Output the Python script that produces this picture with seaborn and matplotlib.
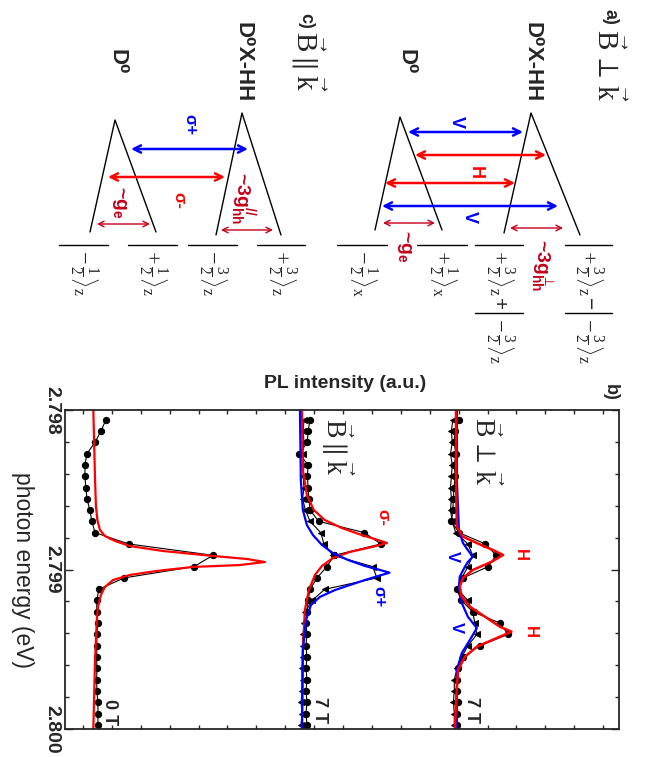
import matplotlib
matplotlib.use("Agg")
import matplotlib.pyplot as plt
from matplotlib.ticker import MultipleLocator
import seaborn as sns

sns.set_style("ticks")
plt.rcParams["font.family"] = ["Liberation Sans", "DejaVu Sans"]
plt.rcParams["mathtext.fontset"] = "custom"
plt.rcParams["mathtext.rm"] = "Liberation Serif"
plt.rcParams["mathtext.it"] = "Liberation Serif:italic"
plt.rcParams["mathtext.bf"] = "Liberation Sans:bold"
plt.rcParams["mathtext.default"] = "regular"

RED = "#ff0000"
BLUE = "#0000ff"
DARKRED = "#c4001a"

# measured photon energies (eV)
energy = [2.798061, 2.798132, 2.798203, 2.798273, 2.798344, 2.798415, 2.798486,
          2.798557, 2.798628, 2.798698, 2.798769, 2.798840, 2.798911, 2.798982,
          2.799053, 2.799124, 2.799194, 2.799265, 2.799336, 2.799407, 2.799478,
          2.799549, 2.799619, 2.799690, 2.799761, 2.799832, 2.799903, 2.799974]

# 0 T spectrum
pl_0T = [0.80, 0.62, 0.42, 0.14, 0.07, 0.07, 0.10, 0.14, 0.24, 0.31, 0.42, 1.59,
         4.50, 3.84, 1.42, 0.55, 0.48, 0.48, 0.52, 0.48, 0.48, 0.48, 0.48, 0.48,
         0.48, 0.52, 0.52, 0.52]
fit_0T_e = [2.798000, 2.798439, 2.798602, 2.798690, 2.798752, 2.798790, 2.798821,
            2.798853, 2.798884, 2.798915, 2.798934, 2.798953, 2.798972, 2.798984,
            2.799009, 2.799034, 2.799066, 2.799110, 2.799160, 2.799235, 2.799317,
            2.799567, 2.800000]
fit_0T = [0.36, 0.42, 0.45, 0.50, 0.59, 0.76, 1.11, 1.63, 2.77, 4.50, 5.67, 6.30,
          5.43, 3.81, 2.56, 1.63, 1.04, 0.76, 0.62, 0.52, 0.48, 0.42, 0.36]

# 7 T, B parallel k (sigma- circles, sigma+ triangles)
pl_par_sm = [7.86, 7.79, 7.77, 7.48, 7.79, 7.77, 7.79, 7.82, 7.86, 8.16, 9.74, 10.31,
             8.70, 8.44, 8.10, 7.86, 7.79, 7.75, 7.72, 7.75, 7.72, 7.75, 7.72, 7.75,
             7.72, 7.75, 7.72, 7.75]
pl_par_sp = [7.65, 7.62, 7.65, 7.60, 7.65, 7.62, 7.65, 7.60, 7.70, 7.86, 8.23, 8.34,
             8.65, 10.03, 10.17, 8.37, 7.93, 7.70, 7.65, 7.62, 7.60, 7.62, 7.58, 7.60,
             7.58, 7.55, 7.58, 7.55]
fit_par_sm_e = [2.798000, 2.798376, 2.798533, 2.798627, 2.798690, 2.798740, 2.798784,
                2.798815, 2.798834, 2.798859, 2.798890, 2.798928, 2.798978, 2.799034,
                2.799129, 2.799254, 2.799505, 2.800000]
fit_par_sm = [7.58, 7.61, 7.75, 7.99, 8.37, 8.96, 9.65, 10.21, 10.52, 10.00, 9.24,
              8.65, 8.27, 8.03, 7.82, 7.68, 7.61, 7.58]
fit_par_sp_e = [2.798000, 2.798439, 2.798627, 2.798721, 2.798784, 2.798846, 2.798897,
                2.798940, 2.798978, 2.799003, 2.799020, 2.799041, 2.799066, 2.799097,
                2.799129, 2.799172, 2.799223, 2.799317, 2.799505, 2.800000]
fit_par_sp = [7.51, 7.54, 7.61, 7.75, 7.96, 8.27, 8.65, 9.17, 9.76, 10.28, 10.61,
              10.21, 9.76, 9.24, 8.72, 8.20, 7.89, 7.72, 7.61, 7.58]

# 7 T, B perpendicular k (H circles, V triangles)
pl_perp_h = [13.02, 12.88, 12.84, 12.91, 12.85, 12.88, 12.84, 12.82, 12.80, 12.75,
             13.01, 13.93, 14.30, 14.02, 13.15, 12.93, 13.10, 13.49, 14.43, 14.71,
             13.73, 13.15, 12.98, 12.95, 12.95, 12.97, 12.95, 12.94]
pl_perp_v = [12.80, 12.75, 12.78, 12.72, 12.78, 12.75, 12.72, 12.75, 12.72, 12.78,
             12.90, 13.32, 13.49, 13.32, 13.11, 12.96, 13.32, 13.49, 13.56, 13.63,
             13.32, 13.11, 12.95, 12.85, 12.85, 12.82, 12.85, 12.85]
fit_perp_h_e = [2.798000, 2.798439, 2.798732, 2.798794, 2.798834, 2.798878, 2.798909,
                2.798951, 2.799003, 2.799053, 2.799108, 2.799171, 2.799233, 2.799304,
                2.799359, 2.799390, 2.799429, 2.799484, 2.799547, 2.799630, 2.799837,
                2.800000]
fit_perp_h = [12.91, 12.91, 12.94, 13.15, 13.63, 14.19, 14.54, 14.15, 13.49, 13.15,
              13.04, 13.11, 13.39, 13.98, 14.43, 14.83, 14.33, 13.63, 13.22, 12.98,
              12.91, 12.87]
fit_perp_v_e = [2.798000, 2.798439, 2.798752, 2.798834, 2.798878, 2.798920, 2.798953,
                2.798982, 2.799045, 2.799108, 2.799210, 2.799296, 2.799367, 2.799442,
                2.799524, 2.799630, 2.800000]
fit_perp_v = [12.94, 12.94, 13.01, 13.15, 13.32, 13.49, 13.32, 13.22, 13.04, 13.01,
              13.11, 13.32, 13.63, 13.39, 13.11, 12.94, 12.94]

fig = plt.figure(figsize=(6.51, 7.57), dpi=100)

# ---------------- panel b: spectra ----------------
ax = fig.add_axes([65 / 651, 1 - 729 / 757, 554 / 651, 319 / 757])
dkw = dict(sort=False, estimator=None, ax=ax, color="black", lw=0.8,
           markersize=4.5, markeredgecolor="black", legend=False)
fkw = dict(sort=False, estimator=None, ax=ax, legend=False)

sns.lineplot(x=pl_0T, y=energy, marker="o", **dkw)
sns.lineplot(x=fit_0T, y=fit_0T_e, color=RED, lw=1.6, **fkw)

sns.lineplot(x=pl_par_sm, y=energy, marker="o", **dkw)
sns.lineplot(x=pl_par_sp, y=energy, marker="<", **dkw)
sns.lineplot(x=fit_par_sm, y=fit_par_sm_e, color=RED, lw=1.6, **fkw)
sns.lineplot(x=fit_par_sp, y=fit_par_sp_e, color=BLUE, lw=1.6, **fkw)

sns.lineplot(x=pl_perp_h, y=energy, marker="o", **dkw)
sns.lineplot(x=pl_perp_v, y=energy, marker="<", **dkw)
sns.lineplot(x=fit_perp_v, y=fit_perp_v_e, color=BLUE, lw=1.6, **fkw)
sns.lineplot(x=fit_perp_h, y=fit_perp_h_e, color=RED, lw=1.8, **fkw)

ax.set_xlim(-0.62, 18.55)
ax.set_ylim(2.800, 2.798)
ax.set_xticks(range(0, 19))
ax.set_yticks([2.798, 2.799, 2.800])
ax.set_yticklabels(["2.798", "2.799", "2.800"], rotation=270, va="center",
                   fontweight="bold", fontsize=14)
ax.yaxis.set_minor_locator(MultipleLocator(0.0002))
ax.tick_params(axis="both", which="both", direction="in", top=True, right=True,
               labelbottom=False, labeltop=False, width=1)
ax.tick_params(axis="x", length=3)
ax.tick_params(axis="y", which="major", length=6, pad=3)
ax.tick_params(axis="y", which="minor", length=3)
for s in ax.spines.values():
    s.set_linewidth(1.3)
ax.set_xlabel("PL intensity (a.u.)", fontweight="bold", fontsize=14)
ax.xaxis.set_label_position("top")
ax.xaxis.set_label_coords(0.505, 1.07)
ax.set_ylabel("photon energy (eV)", rotation=270, fontsize=16.5, va="center")
ax.yaxis.set_label_coords(-0.076, 0.5)

tk = dict(rotation=270, ha="center", va="center", fontweight="bold")
ax.text(13.91, 2.798263, r"$\mathrm{\vec{B}\,\perp\,\vec{k}}$", fontsize=20,
        rotation=270, ha="center", va="center")
ax.text(8.79, 2.798232, r"$\mathrm{\vec{B}\parallel\vec{k}}$", fontsize=20,
        rotation=270, ha="center", va="center")
ax.text(10.38, 2.798671, "σ-", color=RED, fontsize=12, **tk)
ax.text(10.24, 2.799172, "σ+", color=BLUE, fontsize=12, **tk)
ax.text(15.12, 2.798909, "H", color=RED, fontsize=12, **tk)
ax.text(15.47, 2.799392, "H", color=RED, fontsize=12, **tk)
ax.text(12.80, 2.798922, "V", color=BLUE, fontsize=12, **tk)
ax.text(12.94, 2.799367, "V", color=BLUE, fontsize=12, **tk)
ax.text(13.46, 2.799881, "7 T", fontsize=13, **tk)
ax.text(8.17, 2.799881, "7 T", fontsize=13, **tk)
ax.text(0.93, 2.799893, "0 T", fontsize=13, **tk)

# ---------------- panels a and c: level schemes (pixel frame) ----------------
ov = fig.add_axes([0, 0, 1, 1])
ov.set_xlim(0, 651)
ov.set_ylim(757, 0)
ov.axis("off")
ov.patch.set_alpha(0)

ov.text(610, 392, "b)", fontsize=13, **tk)
ov.text(610, 17, "a)", fontsize=13, **tk)
ov.text(306, 21, "c)", fontsize=13, **tk)
ov.text(608, 65, r"$\mathrm{\vec{B}\,\perp\,\vec{k}}$", fontsize=21,
        rotation=270, ha="center", va="center")
ov.text(308, 61, r"$\mathrm{\vec{B}\parallel\vec{k}}$", fontsize=21,
        rotation=270, ha="center", va="center")
for x in (532, 243):
    ov.text(x, 62, "D⁰X-HH", fontsize=16, **tk)
for x in (406, 117):
    ov.text(x, 62, "D⁰", fontsize=16, **tk)

# Zeeman fans: apex, lower and upper branch ends
fans = [((531, 113), (504, 233), (580, 235)),
        ((400, 117), (375, 230), (442, 230)),
        ((242, 113), (216, 235), (281, 235)),
        ((115, 120), (90, 232), (156, 232))]
for apex, lo, hi in fans:
    ov.plot([lo[0], apex[0], hi[0]], [lo[1], apex[1], hi[1]], color="black", lw=1)

def arrow(x0, x1, y, color, lw=1.8, ms=13):
    ov.annotate("", xy=(x1, y), xytext=(x0, y),
                arrowprops=dict(arrowstyle="<->", color=color, lw=lw,
                                shrinkA=0, shrinkB=0, mutation_scale=ms))

arrow(408, 523, 132, BLUE)
arrow(415, 546, 155, RED)
arrow(385, 515, 183, RED)
arrow(382, 558, 206, BLUE)
arrow(383, 435, 223, DARKRED, lw=1, ms=10)
arrow(510, 563, 228, DARKRED, lw=1, ms=10)
arrow(131, 248, 149, BLUE)
arrow(108, 225, 177, RED)
arrow(97, 150, 224, DARKRED, lw=1, ms=10)
arrow(221, 273, 230, DARKRED, lw=1, ms=10)

ov.text(456, 122, "V", color=BLUE, fontsize=13, **tk)
ov.text(475, 172, "H", color=RED, fontsize=13, **tk)
ov.text(469, 217, "V", color=BLUE, fontsize=13, **tk)
ov.text(190, 125, "σ+", color=BLUE, fontsize=12, **tk)
ov.text(179, 200, "σ-", color=RED, fontsize=12, **tk)
ov.text(404, 246, r"~g$_e$", color=DARKRED, fontsize=14, **tk)
ov.text(119, 202, r"~g$_e$", color=DARKRED, fontsize=14, **tk)
ov.text(542, 265, r"~3g$^{\perp}_{hh}$", color=DARKRED, fontsize=14, **tk)
ov.text(242, 198, r"~3g$^{//}_{hh}$", color=DARKRED, fontsize=14, **tk)

# spin states: level bar (x range, y) followed by the ket label
bars = [(565, 612, 245), (565, 612, 313), (475, 523, 245), (475, 523, 313),
        (417, 467, 245), (337, 387, 245), (257, 305, 245), (188, 237, 245),
        (128, 177, 245), (59, 108, 245)]
for x0, x1, y in bars:
    ov.plot([x0, x1], [y, y], color="black", lw=1)

def ket(x, y, sign, num, sub):
    s = r"$\mathrm{\left." + sign + r"\frac{" + num + r"}{2}\right\rangle_" + sub + "}$"
    ov.text(x, y, s, fontsize=16, rotation=270, ha="center", va="top")

ket(588, 247, "+", "3", "z")
ket(588, 315, "-", "3", "z")
ov.text(588, 304, "−", fontsize=15, rotation=270, ha="center", va="center")
ket(499, 247, "+", "3", "z")
ket(499, 315, "-", "3", "z")
ov.text(499, 304, "+", fontsize=15, rotation=270, ha="center", va="center")
ket(442, 247, "+", "1", "x")
ket(362, 247, "-", "1", "x")
ket(281, 247, "+", "3", "z")
ket(212, 247, "-", "3", "z")
ket(152, 247, "+", "1", "z")
ket(83, 247, "-", "1", "z")

fig.savefig("out.png", dpi=100)
